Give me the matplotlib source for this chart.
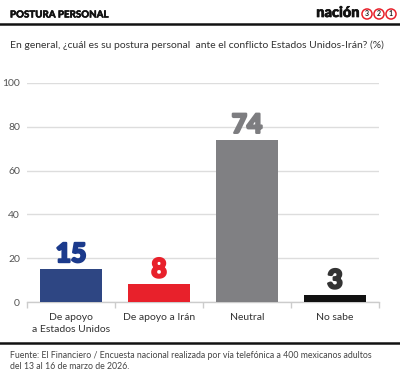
import matplotlib
matplotlib.use("Agg")
import matplotlib.pyplot as plt
from matplotlib.lines import Line2D
import matplotlib.patheffects as pe

categories = ["De apoyo\na Estados Unidos", "De apoyo a Irán", "Neutral", "No sabe"]
values = [15, 8, 74, 3]
bar_colors = ["#2e4683", "#e8212b", "#808083", "#111111"]
label_colors = ["#1b3a8c", "#e8212b", "#7d7d80", "#333333"]
yticks = [0, 20, 40, 60, 80, 100]

title = "POSTURA PERSONAL"
subtitle = "En general, ¿cuál es su postura personal  ante el conflicto Estados Unidos-Irán? (%)"
source = ("Fuente: El Financiero / Encuesta nacional realizada por vía telefónica a 400 mexicanos adultos\n"
          "del 13 al 16 de marzo de 2026.")

plt.rcParams['font.family'] = ['Lato', 'DejaVu Sans']

fig = plt.figure(figsize=(4.0, 3.78), dpi=100)
W, H = 400, 378

def fx(px):
    return px / W

def fy(py):
    return 1 - py / H

ax = fig.add_axes([fx(27), fy(302), fx(379) - fx(27), fy(83) - fy(302)])
x = list(range(len(categories)))
ax.bar(x, values, width=0.7, color=bar_colors, zorder=3)
for xi, v, c in zip(x, values, label_colors):
    ax.text(xi, v + 1.4, str(v), ha='center', va='bottom', color=c,
            fontsize=19, fontweight='black', family=['Lato', 'DejaVu Sans'],
            path_effects=[pe.withStroke(linewidth=1.6, foreground=c)])

ax.set_xlim(-0.5, len(categories) - 0.5)
ax.set_ylim(0, 100)
ax.set_yticks(yticks)
ax.set_yticklabels([str(t) for t in yticks], color="#555555", fontsize=7.5)
ax.yaxis.grid(True, color="#dddddd", linewidth=1.0, zorder=0)
ax.tick_params(axis='y', length=0, pad=5)
ax.set_xticks(x)
ax.set_xticklabels(categories, fontsize=7.5, color="#333333", linespacing=1.4)
ax.set_xticks([i - 0.5 for i in range(len(categories) + 1)], minor=True)
ax.tick_params(axis='x', which='major', length=0, pad=8)
ax.tick_params(axis='x', which='minor', length=4, color="#cccccc", width=1)
for s in ['top', 'right', 'left']:
    ax.spines[s].set_visible(False)
ax.spines['bottom'].set_color("#cccccc")
ax.spines['bottom'].set_linewidth(1.0)

# header
fig.text(fx(10), fy(15), title, fontsize=7.0, fontweight='black', color="#111111",
         va='center', ha='left',
         path_effects=[pe.withStroke(linewidth=0.35, foreground="#111111")])
fig.text(fx(360), fy(13), "nación", fontsize=10.5, fontweight='black', color="#111111",
         va='center', ha='right',
         path_effects=[pe.withStroke(linewidth=0.5, foreground="#111111")])
for i, d in enumerate(["3", "2", "1"]):
    fig.text(fx(367 + i * 12), fy(14), d, fontsize=5.0, fontweight='bold', color="#222222",
             va='center', ha='center',
             bbox=dict(boxstyle='circle,pad=0.22', ec="#e8212b", fc='white', lw=1.1))
fig.add_artist(Line2D([0, 1], [fy(24), fy(24)], color="#111111", lw=1.8))

fig.text(fx(10), fy(45), subtitle, fontsize=7.5, color="#333333", va='center', ha='left')

fig.add_artist(Line2D([0, 1], [fy(343), fy(343)], color="#111111", lw=1.8))
fig.text(fx(10), fy(361), source, fontsize=6.3, color="#444444", va='center', ha='left',
         linespacing=1.35)

fig.savefig("out.png", dpi=100, facecolor='white')
